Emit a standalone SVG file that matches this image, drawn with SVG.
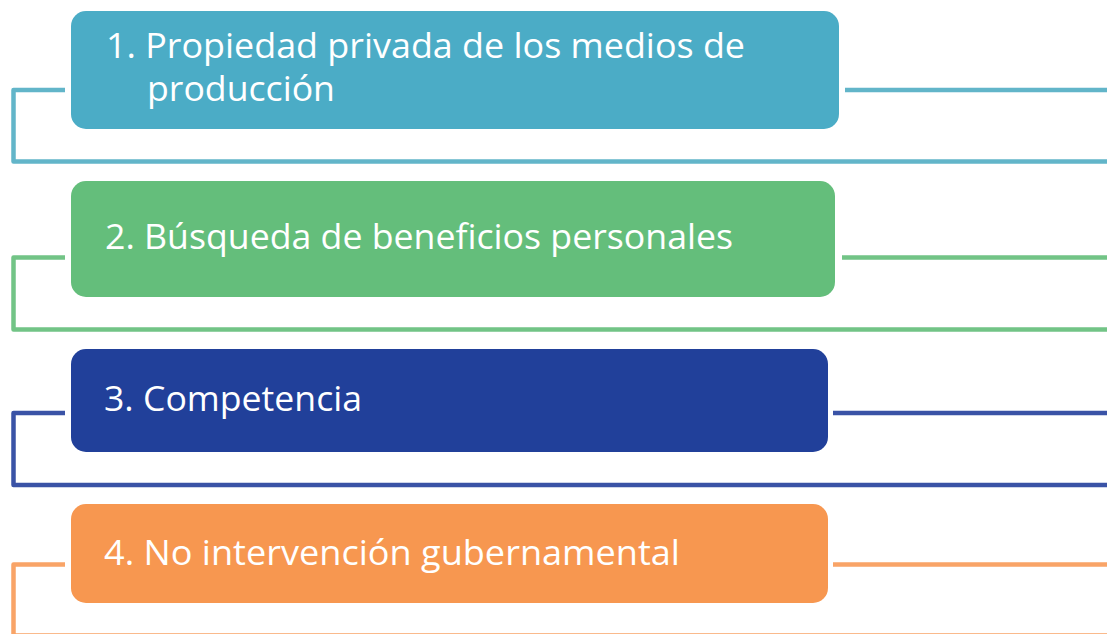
<svg xmlns="http://www.w3.org/2000/svg" width="1107" height="634" viewBox="0 0 1107 634">
<style>
.conn{fill:none;stroke-width:4.5;stroke-linejoin:round}
.t{font-family:"Open Sans","Liberation Sans",sans-serif;font-size:35px;fill:#ffffff}
</style>
<rect width="1107" height="634" fill="#ffffff"/>
<g id="connectors">
<path class="conn" stroke="#62B5C9" d="M65 90 H13.5 V161.5 H1107 M845 90 H1107"/>
<path class="conn" stroke="#72C486" d="M65 257.5 H13.5 V329.5 H1107 M842 257.5 H1107"/>
<path class="conn" stroke="#3A53A6" d="M65 413 H13.5 V485 H1107 M833 413 H1107"/>
<path class="conn" stroke="#F9A467" d="M65 564.5 H13.5 V635.5 H1107 M833 564.5 H1107"/>
</g>
<g id="node1">
<rect x="71" y="11" width="768" height="118" rx="15" fill="#4BACC6"/>
<text class="t" x="106" y="58" textLength="639" lengthAdjust="spacingAndGlyphs">1. Propiedad privada de los medios de</text>
<text class="t" x="147" y="101" textLength="188" lengthAdjust="spacingAndGlyphs">producción</text>
</g>
<g id="node2">
<rect x="71" y="181" width="764" height="116" rx="15" fill="#64BE7B"/>
<text class="t" x="105" y="249" textLength="628" lengthAdjust="spacingAndGlyphs">2. Búsqueda de beneficios personales</text>
</g>
<g id="node3">
<rect x="71" y="349" width="757" height="103" rx="15" fill="#21409A"/>
<text class="t" x="104" y="411" textLength="258" lengthAdjust="spacingAndGlyphs">3. Competencia</text>
</g>
<g id="node4">
<rect x="71" y="504" width="757" height="99" rx="15" fill="#F79750"/>
<text class="t" x="104" y="565" textLength="576" lengthAdjust="spacingAndGlyphs">4. No intervención gubernamental</text>
</g>
</svg>
